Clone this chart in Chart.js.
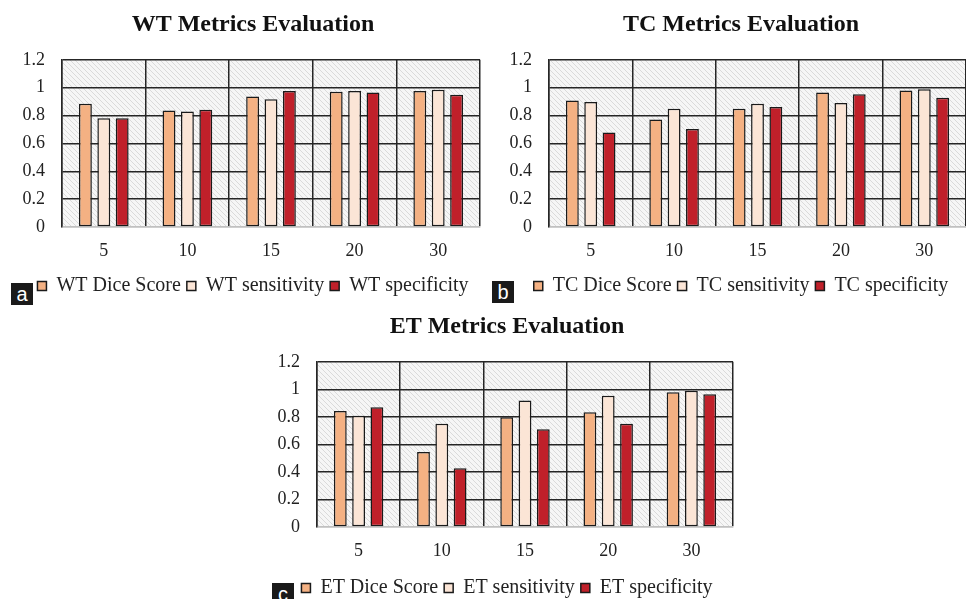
<!DOCTYPE html>
<html>
<head>
<meta charset="utf-8">
<script src="https://cdn.jsdelivr.net/npm/chart.js@4.4.1/dist/chart.umd.min.js"></script>
<style>
  html, body { margin: 0; padding: 0; background: #fff; overflow: hidden; width: 966px; height: 599px; }
  canvas { position: absolute; }
  .tag { position: absolute; background: #1a1a1a; color: #fff; font-family: "Liberation Sans", Arial, sans-serif;
         font-size: 20px; line-height: 22px; width: 22px; height: 22px; text-align: center; }
</style>
</head>
<body>
<canvas id="wtChart" width="506" height="306" style="left:0px;top:0px"></canvas>
<canvas id="tcChart" width="522" height="306" style="left:480px;top:0px"></canvas>
<canvas id="etChart" width="534" height="306" style="left:240px;top:302px"></canvas>
<div class="tag" style="left:11px;top:283px">a</div>
<div class="tag" style="left:492px;top:281px">b</div>
<div class="tag" style="left:272px;top:583px">c</div>
<script>
// data
const categories = ['5', '10', '15', '20', '30'];
const yTicks = [0, 0.2, 0.4, 0.6, 0.8, 1, 1.2];

const wtDice = [0.885, 0.837, 0.937, 0.971, 0.976];
const wtSens = [0.780, 0.829, 0.917, 0.976, 0.985];
const wtSpec = [0.780, 0.841, 0.976, 0.966, 0.949];

const tcDice = [0.907, 0.772, 0.848, 0.966, 0.979];
const tcSens = [0.897, 0.848, 0.885, 0.890, 0.988];
const tcSpec = [0.679, 0.703, 0.861, 0.952, 0.927];

const etDice = [0.842, 0.545, 0.797, 0.834, 0.978];
const etSens = [0.809, 0.750, 0.918, 0.953, 0.990];
const etSpec = [0.869, 0.426, 0.710, 0.750, 0.965];

const colDice = '#f4b183';
const colSens = '#fbe5d6';
const colSpec = '#c0202a';

const serif = '"Liberation Serif", "Times New Roman", serif';

// hatched grey plot background
function makeHatch() {
  const c = document.createElement('canvas');
  c.width = 5; c.height = 5;
  const g = c.getContext('2d');
  g.fillStyle = '#f6f6f6';
  g.fillRect(0, 0, 5, 5);
  g.strokeStyle = '#dadada';
  g.lineWidth = 1;
  g.beginPath();
  g.moveTo(-1, -1); g.lineTo(6, 6);
  g.moveTo(-1, 4); g.lineTo(1, 6);
  g.moveTo(4, -1); g.lineTo(6, 1);
  g.stroke();
  return g.createPattern(c, 'repeat');
}

const hatchPlugin = {
  id: 'hatch',
  beforeDraw(chart) {
    const a = chart.chartArea;
    const ctx = chart.ctx;
    ctx.save();
    ctx.fillStyle = makeHatch();
    ctx.fillRect(a.left, a.top, a.right - a.left, a.bottom - a.top);
    ctx.restore();
  }
};

function makeChart(id, prefix, dice, sens, spec, yWidth, rightWidth, xHeight) {
  const ctx = document.getElementById(id).getContext('2d');
  const barOpts = { borderColor: '#1a1a1a', borderWidth: 1.5, borderSkipped: false,
                    categoryPercentage: 0.66, barPercentage: 0.7 };
  return new Chart(ctx, {
    type: 'bar',
    data: {
      labels: categories,
      datasets: [
        Object.assign({ label: prefix + ' Dice Score', data: dice, backgroundColor: colDice }, barOpts),
        Object.assign({ label: prefix + ' sensitivity', data: sens, backgroundColor: colSens }, barOpts),
        Object.assign({ label: prefix + ' specificity', data: spec, backgroundColor: colSpec }, barOpts)
      ]
    },
    options: {
      responsive: false,
      animation: false,
      devicePixelRatio: 1,
      layout: { padding: 0 },
      plugins: {
        title: {
          display: true,
          text: prefix + ' Metrics Evaluation',
          color: '#111',
          font: { family: serif, size: 24, weight: 'bold' },
          padding: { top: 10, bottom: 21 }
        },
        legend: {
          position: 'bottom',
          labels: {
            color: '#222',
            font: { family: serif, size: 20 },
            boxWidth: 9,
            boxHeight: 9,
            padding: 6
          }
        },
        tooltip: { enabled: false }
      },
      scales: {
        x: {
          grid: { offset: true, color: '#262626', lineWidth: 1.5, drawTicks: false },
          border: { color: '#c0c0c0', width: 1.5 },
          ticks: { color: '#222', padding: 13, font: { family: serif, size: 18 } },
          afterFit(s) { s.height = xHeight; }
        },
        y: {
          min: 0, max: 1.2,
          afterBuildTicks(s) { s.ticks = yTicks.map(v => ({ value: v })); },
          grid: {
            color: (c) => (c.tick && c.tick.value === 0 ? '#c0c0c0' : '#262626'),
            lineWidth: 1.5, drawTicks: false
          },
          border: { color: '#262626', width: 1.5 },
          ticks: {
            color: '#222', padding: 17,
            font: { family: serif, size: 18 },
            callback: (v) => String(Math.round(v * 10) / 10)
          },
          afterFit(s) { s.width = yWidth; }
        },
        pad: {
          position: 'right',
          display: true,
          grid: { display: false },
          border: { display: false },
          ticks: { display: false },
          afterFit(s) { s.width = rightWidth; }
        }
      }
    },
    plugins: [hatchPlugin]
  });
}

makeChart('wtChart', 'WT', wtDice, wtSens, wtSpec, 62, 26, 43);
makeChart('tcChart', 'TC', tcDice, tcSens, tcSpec, 69, 36, 43);
makeChart('etChart', 'ET', etDice, etSens, etSpec, 77, 41, 45);
</script>
</body>
</html>
